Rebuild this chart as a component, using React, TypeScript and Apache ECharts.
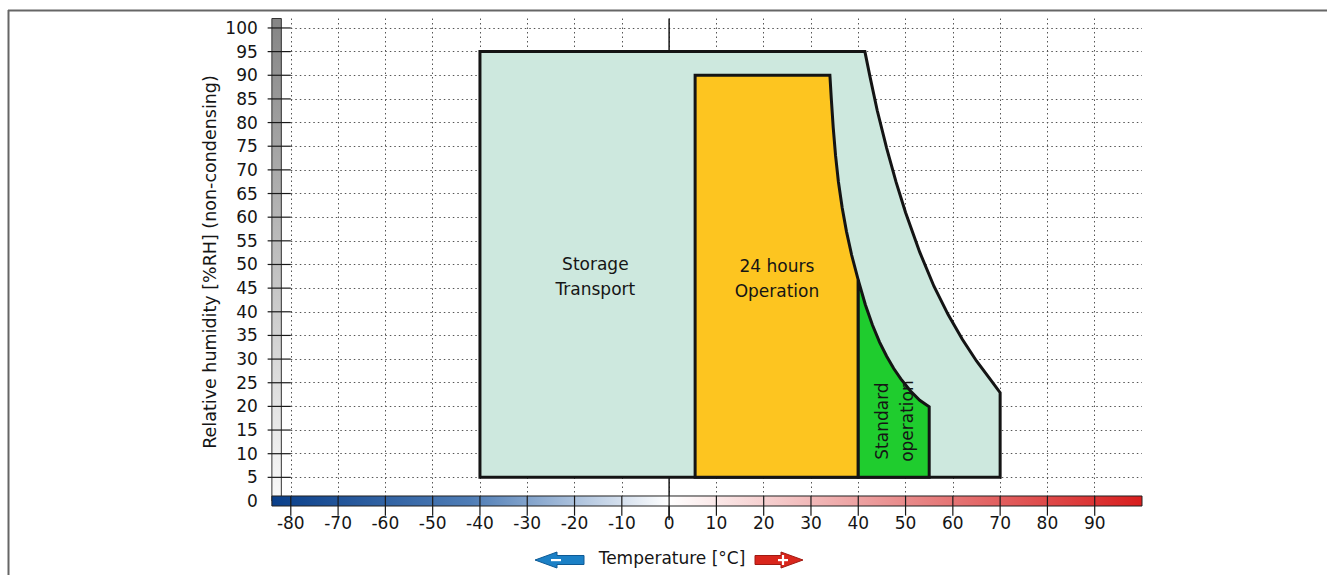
import React, { useEffect, useRef } from 'react';
import * as echarts from 'echarts';

const FONT = '"DejaVu Sans", "Liberation Sans", Arial, sans-serif';
const TEXT_COLOR = '#151515';

const xTicks = [-80, -70, -60, -50, -40, -30, -20, -10, 0, 10, 20, 30, 40, 50, 60, 70, 80, 90];
const yTicks = [5, 10, 15, 20, 25, 30, 35, 40, 45, 50, 55, 60, 65, 70, 75, 80, 85, 90, 95, 100];

const storageOutline: [number, number][] = [
  [-40, 5], [-40, 95], [41.4, 95], [42.5, 89.6], [44, 82.6], [46, 74.6], [48, 67.4], [50, 61],
  [53, 52.6], [56, 45.4], [59, 39.4], [62, 34.2], [65, 29.6], [68, 25.6], [70, 22.9], [70, 5],
];
const operation24Outline: [number, number][] = [
  [5.5, 5], [5.5, 90], [34, 90], [34.3, 85], [34.7, 79], [35.2, 73], [35.8, 67.5], [36.6, 62],
  [37.5, 57], [38.6, 52], [40, 46.7], [40, 5],
];
const standardOutline: [number, number][] = [
  [40, 5], [40, 46.7], [41.5, 41.5], [43, 37.2], [44.5, 33.6], [46, 30.6], [47.5, 28], [49, 25.8],
  [51, 23.3], [53, 21.3], [55, 19.9], [55, 5],
];

const regionLabels = [
  { text: 'Storage\nTransport', x: -15.6, y: 47.5, vertical: false },
  { text: '24 hours\nOperation', x: 22.8, y: 47.1, vertical: false },
  { text: 'Standard\noperation', x: 47.6, y: 16.9, vertical: true },
];

// temperature colour bar and humidity bar extents (data units)
const tempBar = { from: -84, to: 100, half: 1.06 };
const humidBar = { from: -84, to: -82, top: 102 };

function polygonSeries(outline: [number, number][], fill: string) {
  return {
    type: 'custom',
    clip: false,
    silent: true,
    data: [outline[0]],
    renderItem: (_p: any, api: any) => ({
      type: 'polygon',
      shape: { points: outline.map((pt) => api.coord(pt)) },
      style: { fill, stroke: '#141414', lineWidth: 3, lineJoin: 'miter' },
    }),
  };
}

function buildOption() {
  return {
    animation: false,
    grid: { left: 290.8, right: 185, top: 18.5, bottom: 74, containLabel: false },
    xAxis: {
      type: 'value',
      min: -80,
      max: 100,
      interval: 10,
      axisLine: { show: false },
      axisTick: { show: false },
      axisLabel: {
        margin: 13,
        fontSize: 17,
        fontFamily: FONT,
        color: TEXT_COLOR,
        showMaxLabel: false,
      },
      splitLine: {
        show: true,
        showMinLine: true,
        showMaxLine: false,
        lineStyle: { type: [1.5, 3], color: '#555', width: 1 },
      },
    },
    yAxis: {
      type: 'value',
      min: 0,
      max: 102,
      interval: 5,
      axisLine: { show: false },
      axisTick: { show: false },
      axisLabel: {
        margin: 33,
        fontSize: 17,
        fontFamily: FONT,
        color: TEXT_COLOR,
        showMaxLabel: false,
      },
      splitLine: {
        show: true,
        showMinLine: false,
        showMaxLine: false,
        lineStyle: { type: [1.5, 3], color: '#555', width: 1 },
      },
    },
    series: [
      // vertical zero line
      {
        type: 'custom',
        clip: false,
        silent: true,
        data: [[0, 0]],
        renderItem: (_p: any, api: any) => {
          const a = api.coord([0, 102]);
          const b = api.coord([0, -4]);
          return {
            type: 'line',
            shape: { x1: a[0], y1: a[1], x2: b[0], y2: b[1] },
            style: { stroke: '#1a1a1a', lineWidth: 1.5 },
          };
        },
      },
      // humidity grey bar
      {
        type: 'custom',
        clip: false,
        silent: true,
        data: [[humidBar.from, humidBar.top]],
        renderItem: (_p: any, api: any) => {
          const a = api.coord([humidBar.from, humidBar.top]);
          const b = api.coord([humidBar.to, 0]);
          return {
            type: 'rect',
            shape: { x: a[0], y: a[1], width: b[0] - a[0], height: b[1] - a[1] },
            style: {
              fill: new echarts.graphic.LinearGradient(0, 0, 0, 1, [
                { offset: 0, color: '#858585' },
                { offset: 1, color: '#fafafa' },
              ]),
              stroke: '#333',
              lineWidth: 1,
            },
          };
        },
      },
      // temperature colour bar
      {
        type: 'custom',
        clip: false,
        silent: true,
        data: [[tempBar.from, 0]],
        renderItem: (_p: any, api: any) => {
          const a = api.coord([tempBar.from, tempBar.half]);
          const b = api.coord([tempBar.to, -tempBar.half]);
          const zeroPos = (0 - tempBar.from) / (tempBar.to - tempBar.from);
          return {
            type: 'rect',
            shape: { x: a[0], y: a[1], width: b[0] - a[0], height: b[1] - a[1] },
            style: {
              fill: new echarts.graphic.LinearGradient(0, 0, 1, 0, [
                { offset: 0, color: '#0a3f8a' },
                { offset: zeroPos * 0.5, color: '#4f7db6' },
                { offset: zeroPos, color: '#ffffff' },
                { offset: zeroPos + (1 - zeroPos) * 0.5, color: '#e88a8a' },
                { offset: 1, color: '#d81e1e' },
              ]),
              stroke: '#222',
              lineWidth: 1,
            },
          };
        },
      },
      polygonSeries(storageOutline, '#cde8de'),
      polygonSeries(operation24Outline, '#fdc520'),
      polygonSeries(standardOutline, '#1fcc2e'),
      // x ticks crossing the colour bar
      {
        type: 'custom',
        clip: false,
        silent: true,
        data: xTicks.map((v) => [v, 0]),
        renderItem: (_p: any, api: any) => {
          const v = api.value(0);
          const a = api.coord([v, tempBar.half]);
          const b = api.coord([v, -3.1]);
          return {
            type: 'line',
            shape: { x1: a[0], y1: a[1], x2: b[0], y2: b[1] },
            style: { stroke: '#1a1a1a', lineWidth: 1.2 },
          };
        },
      },
      // y ticks crossing the humidity bar
      {
        type: 'custom',
        clip: false,
        silent: true,
        data: yTicks.map((v) => [-80, v]),
        renderItem: (_p: any, api: any) => {
          const v = api.value(1);
          const a = api.coord([-84.9, v]);
          const b = api.coord([-80, v]);
          return {
            type: 'line',
            shape: { x1: a[0], y1: a[1], x2: b[0], y2: b[1] },
            style: { stroke: '#1a1a1a', lineWidth: 1.2 },
          };
        },
      },
      // region labels
      {
        type: 'custom',
        clip: false,
        silent: true,
        data: regionLabels.map((l) => [l.x, l.y]),
        renderItem: (p: any, api: any) => {
          const l = regionLabels[p.dataIndex];
          const c = api.coord([l.x, l.y]);
          return {
            type: 'text',
            x: c[0],
            y: c[1],
            rotation: l.vertical ? Math.PI / 2 : 0,
            style: {
              text: l.text,
              fill: TEXT_COLOR,
              fontSize: 17,
              fontFamily: FONT,
              lineHeight: 25,
              align: 'center',
              verticalAlign: 'middle',
              textAlign: 'center',
              textVerticalAlign: 'middle',
            },
          };
        },
      },
    ],
    graphic: [
      // outer frame lines
      { type: 'line', silent: true, shape: { x1: 8, y1: 10.5, x2: 1327, y2: 10.5 }, style: { stroke: '#666', lineWidth: 2 } },
      { type: 'line', silent: true, shape: { x1: 8.5, y1: 10, x2: 8.5, y2: 575 }, style: { stroke: '#666', lineWidth: 2 } },
      // y axis title
      {
        type: 'text',
        x: 210,
        y: 262,
        rotation: Math.PI / 2,
        silent: true,
        style: {
          text: 'Relative humidity [%RH] (non-condensing)',
          fill: TEXT_COLOR,
          fontSize: 17.5,
          fontFamily: FONT,
          align: 'center',
          verticalAlign: 'middle',
          textAlign: 'center',
          textVerticalAlign: 'middle',
        },
      },
      // x axis title
      {
        type: 'text',
        x: 672,
        y: 558,
        silent: true,
        style: {
          text: 'Temperature [°C]',
          fill: TEXT_COLOR,
          fontSize: 17,
          fontFamily: FONT,
          align: 'center',
          verticalAlign: 'middle',
          textAlign: 'center',
          textVerticalAlign: 'middle',
        },
      },
      // blue (minus) arrow
      {
        type: 'polygon',
        silent: true,
        shape: { points: [[535, 560], [557, 552], [557, 555.5], [584, 555.5], [584, 564.5], [557, 564.5], [557, 568]] },
        style: { fill: '#1b80c6', stroke: '#0e5a95', lineWidth: 1 },
      },
      { type: 'rect', silent: true, shape: { x: 551, y: 559, width: 10, height: 2.2 }, style: { fill: '#ffffff' } },
      // red (plus) arrow
      {
        type: 'polygon',
        silent: true,
        shape: { points: [[803, 560], [781, 552], [781, 555.5], [755, 555.5], [755, 564.5], [781, 564.5], [781, 568]] },
        style: { fill: '#d9261c', stroke: '#a01a12', lineWidth: 1 },
      },
      { type: 'rect', silent: true, shape: { x: 778, y: 559, width: 10, height: 2.2 }, style: { fill: '#ffffff' } },
      { type: 'rect', silent: true, shape: { x: 781.9, y: 555, width: 2.2, height: 10 }, style: { fill: '#ffffff' } },
    ],
  };
}

export default function App() {
  const ref = useRef<HTMLDivElement>(null);
  useEffect(() => {
    if (!ref.current) return;
    const chart = echarts.init(ref.current, null, { renderer: 'svg' });
    chart.setOption(buildOption() as any);
    return () => {
      chart.dispose();
    };
  }, []);
  return (
    <div
      ref={ref}
      style={{ position: 'fixed', left: 0, top: 0, width: 1327, height: 575, background: '#ffffff' }}
    />
  );
}
